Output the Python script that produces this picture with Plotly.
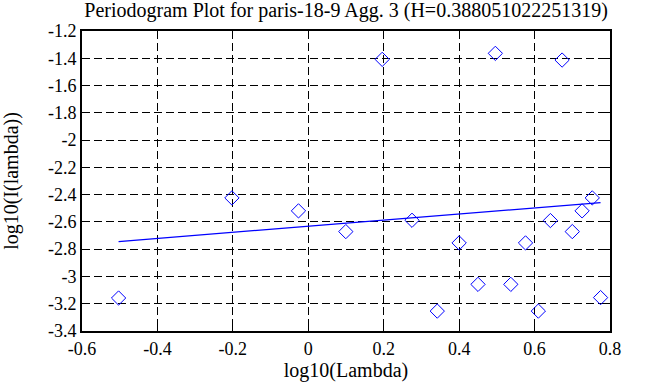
import plotly.graph_objects as go

x_vals = [-0.503, -0.2025, -0.026, 0.0995, 0.196, 0.275, 0.342, 0.400, 0.450, 0.496,
          0.537, 0.576, 0.610, 0.642, 0.673, 0.700, 0.726, 0.753, 0.775]
y_vals = [-3.158, -2.424, -2.519, -2.671, -1.408, -2.588, -3.254, -2.754, -3.058, -1.364,
          -3.058, -2.754, -3.254, -2.590, -1.413, -2.671, -2.519, -2.424, -3.155]
line_x = [-0.503, 0.775]
line_y = [-2.744, -2.458]
x_ticks = [-0.6, -0.4, -0.2, 0, 0.2, 0.4, 0.6, 0.8]
y_ticks = [-3.4, -3.2, -3, -2.8, -2.6, -2.4, -2.2, -2, -1.8, -1.6, -1.4, -1.2]
title = "Periodogram Plot for paris-18-9 Agg. 3 (H=0.388051022251319)"

serif = "Liberation Serif"
tick_font = dict(family=serif, size=18, color="black")
title_font = dict(family=serif, size=20, color="black")

fig = go.Figure()
fig.add_trace(go.Scatter(x=x_vals, y=y_vals, mode="markers",
                         marker=dict(symbol="diamond-open", size=11, color="#0000ff",
                                     line=dict(width=1, color="#0000ff"))))
fig.add_trace(go.Scatter(x=line_x, y=line_y, mode="lines",
                         line=dict(color="#0000ff", width=1.3)))

axis_common = dict(showgrid=True, gridcolor="black", griddash="8px,4px", gridwidth=1,
                   showline=True, linecolor="black", linewidth=2, mirror="ticks",
                   ticks="inside", ticklen=6, tickcolor="black", tickwidth=1,
                   zeroline=False, tickfont=tick_font, automargin=False)
fig.update_xaxes(range=[-0.6, 0.8], tickvals=x_ticks,
                 ticktext=[("%g" % v) for v in x_ticks],
                 title=dict(text="log10(Lambda)", font=title_font, standoff=4), **axis_common)
fig.update_yaxes(range=[-3.4, -1.2], tickvals=y_ticks,
                 ticktext=[("%g" % v) for v in y_ticks],
                 title=dict(text="log10(I(lambda))", font=title_font, standoff=27), **axis_common)
fig.update_layout(width=653, height=387, showlegend=False,
                  plot_bgcolor="white", paper_bgcolor="white",
                  margin=dict(l=82, r=43, t=31, b=56),
                  title=dict(text=title, font=title_font, automargin=False,
                             x=0.53, xanchor="center", xref="container",
                             y=1, yanchor="top", yref="container", pad=dict(t=3)),
                  font=tick_font)
fig.write_html("out.html", config={"displayModeBar": False},
               post_script="document.body.style.margin='0px';")
